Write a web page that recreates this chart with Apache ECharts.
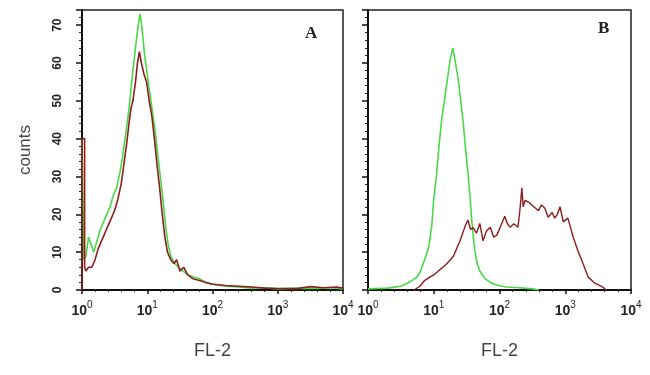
<!DOCTYPE html>
<html>
<head>
<meta charset="utf-8">
<script src="https://cdn.jsdelivr.net/npm/echarts@6/dist/echarts.min.js"></script>
<style>
  html, body { margin: 0; padding: 0; background: #fff; }
  #chart { width: 650px; height: 375px; }
</style>
</head>
<body>
<div id="chart"></div>
<script>
// FL-2 in decades (log10), counts per channel
var xTicks = [0, 1, 2, 3, 4];
var yTicks = [0, 10, 20, 30, 40, 50, 60, 70];

// panel A - control (green) and stained (dark red)
var aGreenX = [0, 0.03, 0.06, 0.1, 0.14, 0.18, 0.23, 0.28, 0.33, 0.38, 0.43, 0.48, 0.53, 0.58, 0.62, 0.66, 0.7, 0.74, 0.78, 0.82, 0.86, 0.89, 0.92, 0.96, 1.0, 1.04, 1.08, 1.12, 1.16, 1.2, 1.24, 1.28, 1.32, 1.36, 1.42, 1.48, 1.55, 1.62, 1.7, 1.8, 1.9, 2.0, 2.2, 2.4, 2.6, 2.8, 3.0, 3.3, 3.6, 3.8, 4.0];
var aGreenY = [40, 8, 9, 14, 12, 10, 13, 16, 18, 20, 22, 25, 27, 31, 35, 40, 45, 51, 58, 64, 70, 73, 69, 62, 57, 52, 47, 42, 36, 30, 24, 17, 12, 9, 7, 6, 5, 4, 3.5, 3, 2, 1.6, 1, 0.8, 0.5, 0.6, 0.3, 0.5, 0.4, 0.6, 0.3];
var aRedX = [0, 0, 0.04, 0.04, 0.06, 0.1, 0.15, 0.2, 0.25, 0.3, 0.35, 0.4, 0.45, 0.5, 0.55, 0.6, 0.64, 0.68, 0.72, 0.75, 0.78, 0.82, 0.85, 0.88, 0.91, 0.95, 0.99, 1.03, 1.07, 1.11, 1.15, 1.19, 1.23, 1.27, 1.31, 1.36, 1.41, 1.45, 1.5, 1.56, 1.62, 1.7, 1.8, 1.9, 2.0, 2.2, 2.4, 2.6, 2.8, 3.0, 3.3, 3.5, 3.7, 3.9, 4.0];
var aRedY = [0, 40, 40, 6, 5, 6, 6, 8, 11, 13, 15, 17, 19, 21, 24, 28, 33, 38, 44, 48, 50, 55, 60, 63, 60, 57, 55, 50, 46, 40, 33, 27, 20, 14, 10, 8, 7, 8, 5, 6, 4, 3, 2.5, 2, 1.5, 1.2, 1, 0.8, 0.5, 0.4, 0.4, 0.9, 0.6, 0.8, 0.5];

// panel B
var bGreenX = [0, 0.3, 0.5, 0.6, 0.68, 0.75, 0.8, 0.86, 0.92, 0.97, 1.0, 1.04, 1.08, 1.12, 1.17, 1.21, 1.25, 1.29, 1.33, 1.37, 1.41, 1.45, 1.48, 1.52, 1.55, 1.58, 1.62, 1.66, 1.7, 1.78, 1.86, 1.95, 2.1, 2.3, 2.5, 2.6];
var bGreenY = [0.3, 0.5, 1, 1.8, 2.6, 3.5, 5, 8, 11, 17, 24, 30, 38, 45, 51, 56, 61, 64, 60, 56, 50, 44, 38, 31, 25, 18, 11, 7, 5, 3, 2, 1.3, 0.8, 0.6, 0.3, 0];
var bRedX = [0.7, 0.79, 0.86, 0.94, 1.0, 1.05, 1.1, 1.14, 1.2, 1.25, 1.3, 1.35, 1.4, 1.44, 1.48, 1.52, 1.56, 1.6, 1.65, 1.7, 1.75, 1.8, 1.86, 1.91, 1.96, 2.02, 2.08, 2.12, 2.16, 2.22, 2.28, 2.31, 2.34, 2.36, 2.39, 2.46, 2.52, 2.59, 2.64, 2.69, 2.74, 2.8, 2.84, 2.88, 2.92, 2.97, 3.04, 3.08, 3.12, 3.19, 3.27, 3.35, 3.45, 3.57, 3.62];
var bRedY = [0, 1, 2.5, 3.4, 4, 4.7, 5.5, 6, 7, 7.9, 9, 11, 13, 15, 17, 18.5, 16, 16.5, 15, 17.6, 13, 15.5, 16.6, 14, 14.5, 17, 19.5, 17.5, 16.6, 17.5, 16.6, 21, 27, 22, 23.7, 23, 22, 21, 22.5, 21.6, 19.2, 20.5, 19, 20, 22, 18, 19, 16.5, 14, 10.5, 7, 3.4, 1.8, 0.8, 0];

var GREEN = '#4ad84a';
var RED = '#8e1c1c';

function pairs(xs, ys) {
    return xs.map(function (x, i) { return [x, ys[i]]; });
}

function makeX(idx) {
    return {
        gridIndex: idx,
        type: 'value',
        min: xTicks[0],
        max: xTicks[xTicks.length - 1],
        interval: 1,
        name: 'FL-2',
        nameLocation: 'middle',
        nameGap: 52,
        nameTextStyle: { fontFamily: 'Liberation Sans', fontSize: 18, color: '#444' },
        axisLine: { onZero: false, lineStyle: { color: '#111', width: 2 } },
        axisTick: { length: 4, lineStyle: { color: '#111', width: 1.5 } },
        minorTick: { show: true, splitNumber: 5, length: 2, lineStyle: { color: '#222' } },
        splitLine: { show: false },
        axisLabel: {
            margin: 10,
            formatter: function (v) { return '{b|10}{s|' + v + '}'; },
            rich: {
                b: { fontFamily: 'Liberation Sans', fontWeight: 'bold', fontSize: 14, color: '#222', verticalAlign: 'bottom', lineHeight: 18 },
                s: { fontFamily: 'Liberation Sans', fontSize: 10, color: '#222', verticalAlign: 'top', lineHeight: 18 }
            }
        }
    };
}

function makeY(idx, showLabels) {
    return {
        gridIndex: idx,
        type: 'value',
        min: 0,
        max: 74,
        interval: 10,
        name: showLabels ? 'counts' : '',
        nameLocation: 'middle',
        nameGap: 48,
        nameRotate: 90,
        nameTextStyle: { fontFamily: 'Liberation Sans', fontSize: 17, color: '#444' },
        axisLine: { show: true, lineStyle: { color: '#111', width: 2 } },
        axisTick: { length: 6, lineStyle: { color: '#111', width: 1.5 } },
        minorTick: { show: true, splitNumber: 5, length: 3, lineStyle: { color: '#222' } },
        splitLine: { show: false },
        axisLabel: {
            show: showLabels,
            showMaxLabel: false,
            rotate: 90,
            margin: 18,
            fontFamily: 'Liberation Sans',
            fontWeight: 'bold',
            fontSize: 12,
            color: '#222'
        }
    };
}

function line(xi, data, color, w) {
    return {
        type: 'line',
        xAxisIndex: xi,
        yAxisIndex: xi,
        data: data,
        showSymbol: false,
        animation: false,
        lineStyle: { color: color, width: w },
        z: color === RED ? 3 : 2
    };
}

var chart = echarts.init(document.getElementById('chart'));
var option = {
    backgroundColor: '#fff',
    animation: false,
    grid: [
        { left: 82, top: 10, width: 261, height: 280, show: true, borderColor: '#222', borderWidth: 1.5, backgroundColor: 'transparent' },
        { left: 368, top: 10, width: 263, height: 280, show: true, borderColor: '#222', borderWidth: 1.5, backgroundColor: 'transparent' }
    ],
    xAxis: [makeX(0), makeX(1)],
    yAxis: [makeY(0, true), makeY(1, false)],
    graphic: [
        { type: 'text', left: 305, top: 25, style: { text: 'A', font: 'bold 17px "Liberation Serif"', fill: '#222' } },
        { type: 'text', left: 598, top: 20, style: { text: 'B', font: 'bold 17px "Liberation Serif"', fill: '#222' } }
    ],
    series: [
        line(0, pairs(aGreenX, aGreenY), GREEN, 1.6),
        line(0, pairs(aRedX, aRedY), RED, 1.6),
        line(1, pairs(bGreenX, bGreenY), GREEN, 1.6),
        line(1, pairs(bRedX, bRedY), RED, 1.4)
    ]
};
chart.setOption(option);
</script>
</body>
</html>
